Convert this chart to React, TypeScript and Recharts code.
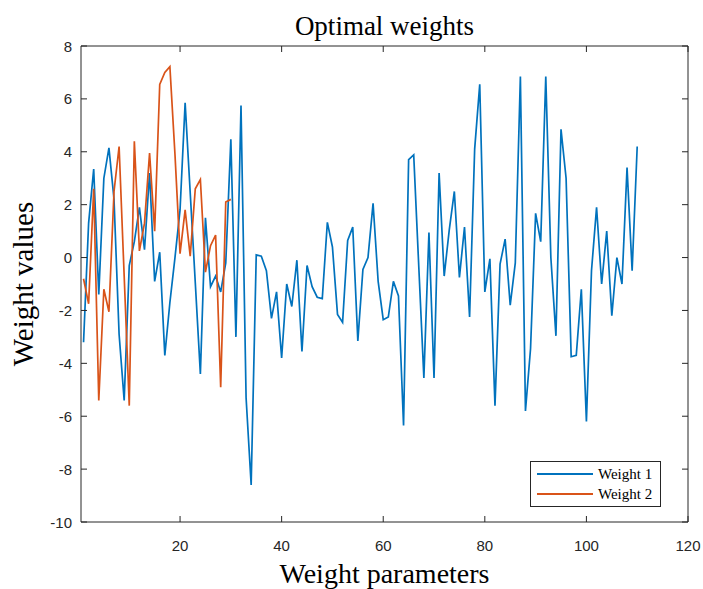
import React from 'react';
import { LineChart, Line, XAxis, YAxis, Legend } from 'recharts';

const weight1: number[] = [
  -3.2, 1.3, 3.35, -1.4, 3.0, 4.15, 2.2, -2.9, -5.4, -0.3,
  0.6, 1.9, 0.3, 3.2, -0.9, 0.2, -3.7, -1.7, 0.0, 1.8,
  5.85, 2.45, -0.95, -4.4, 1.5, -1.1, -0.7, -1.3, -0.2, 4.47,
  -3.0, 5.75, -5.3, -8.6, 0.1, 0.05, -0.5, -2.3, -1.3, -3.8,
  -1.0, -1.85, -0.1, -3.55, -0.3, -1.1, -1.5, -1.55, 1.33, 0.4,
  -2.15, -2.45, 0.65, 1.15, -3.15, -0.45, 0.0, 2.05, -0.9, -2.35,
  -2.25, -0.9, -1.45, -6.35, 3.7, 3.88, -0.35, -4.55, 0.95, -4.55,
  3.2, -0.7, 1.05, 2.5, -0.75, 1.15, -2.25, 4.1, 6.55, -1.3,
  -0.05, -5.6, -0.25, 0.7, -1.8, -0.2, 6.85, -5.8, -3.45, 1.67,
  0.6, 6.85, 0.0, -2.96, 4.85, 3.0, -3.75, -3.7, -1.2, -6.2,
  -0.5, 1.9, -1.0, 1.0, -2.2, 0.0, -1.0, 3.4, -0.5, 4.2,
];

const weight2: number[] = [
  -0.8, -1.75, 2.6, -5.4, -1.2, -2.05, 2.5, 4.2, -0.7, -5.6,
  4.4, 0.25, 1.3, 3.95, 1.0, 6.55, 7.0, 7.22, 3.9, 0.15,
  1.8, 0.05, 2.6, 2.95, -0.55, 0.45, 0.85, -4.9, 2.1, 2.2,
];

const xTicks = [20, 40, 60, 80, 100, 120];
const yTicks = [-10, -8, -6, -4, -2, 0, 2, 4, 6, 8];
const seriesNames = ['Weight 1', 'Weight 2'];
const seriesKeys = ['w1', 'w2'];
const seriesColors = ['#0072BD', '#D95319'];

const titleText = 'Optimal weights';
const xLabelText = 'Weight parameters';
const yLabelText = 'Weight values';

const data = weight1.map((v, i) => ({
  idx: i + 1,
  w1: v,
  w2: i < weight2.length ? weight2[i] : null,
}));

const AX = '#262626';
const TICK_FONT = '"Liberation Sans", Arial, sans-serif';
const SERIF = '"Liberation Serif", "Times New Roman", serif';
const TL = 6;

const BottomTick = (p: any) => (
  <g>
    <line x1={p.x} x2={p.x} y1={p.y} y2={p.y - TL} stroke={AX} strokeWidth={1} />
    <text x={p.x} y={p.y + 29} textAnchor="middle" fontFamily={TICK_FONT} fontSize={15} fill={AX}>
      {p.payload.value}
    </text>
  </g>
);
const TopTick = (p: any) => (
  <line x1={p.x} x2={p.x} y1={p.y} y2={p.y + TL} stroke={AX} strokeWidth={1} />
);
const LeftTick = (p: any) => (
  <g>
    <line x1={p.x} x2={p.x + TL} y1={p.y} y2={p.y} stroke={AX} strokeWidth={1} />
    <text x={p.x - 9} y={p.y + 5.5} textAnchor="end" fontFamily={TICK_FONT} fontSize={15} fill={AX}>
      {p.payload.value}
    </text>
  </g>
);
const RightTick = (p: any) => (
  <line x1={p.x} x2={p.x - TL} y1={p.y} y2={p.y} stroke={AX} strokeWidth={1} />
);

const renderLegend = () => (
  <div
    style={{
      border: `1px solid ${AX}`,
      background: '#fff',
      padding: '2px 8px 2px 6px',
      fontFamily: SERIF,
      fontSize: 15,
      color: '#000',
      lineHeight: '20px',
    }}
  >
    {seriesNames.map((n, i) => (
      <div key={n} style={{ display: 'flex', alignItems: 'center', height: 20 }}>
        <svg width={56} height={10} style={{ marginRight: 5 }}>
          <line x1={0} x2={56} y1={5} y2={5} stroke={seriesColors[i]} strokeWidth={2} />
        </svg>
        <span>{n}</span>
      </div>
    ))}
  </div>
);

export default function App() {
  return (
    <div style={{ position: 'absolute', left: 0, top: 0, width: 703, height: 589, background: '#fff' }}>
      <LineChart width={703} height={589} data={data} margin={{ top: 45, right: 14, bottom: 0, left: 0 }}>
        <XAxis
          dataKey="idx"
          type="number"
          domain={[0.5, 120]}
          allowDataOverflow
          ticks={xTicks}
          interval={0}
          height={67}
          tickSize={0}
          tickMargin={0}
          tickLine={false}
          axisLine={{ stroke: AX }}
          tick={BottomTick}
        />
        <XAxis
          xAxisId="top"
          dataKey="idx"
          orientation="top"
          type="number"
          domain={[0.5, 120]}
          allowDataOverflow
          ticks={xTicks}
          interval={0}
          height={1}
          tickSize={0}
          tickMargin={0}
          tickLine={false}
          axisLine={{ stroke: AX }}
          tick={TopTick}
        />
        <YAxis
          type="number"
          domain={[-10, 8]}
          allowDataOverflow
          ticks={yTicks}
          interval={0}
          width={81}
          tickSize={0}
          tickMargin={0}
          tickLine={false}
          axisLine={{ stroke: AX }}
          tick={LeftTick}
        />
        <YAxis
          yAxisId="right"
          orientation="right"
          type="number"
          domain={[-10, 8]}
          allowDataOverflow
          ticks={yTicks}
          interval={0}
          width={1}
          tickSize={0}
          tickMargin={0}
          tickLine={false}
          axisLine={{ stroke: AX }}
          tick={RightTick}
        />
        {/* invisible series bound to the box axes (top / right) so they are drawn */}
        <Line
          xAxisId="top"
          yAxisId="right"
          dataKey="w1"
          stroke="none"
          strokeWidth={0}
          dot={false}
          activeDot={false}
          legendType="none"
          isAnimationActive={false}
        />
        {seriesKeys.map((k, i) => (
          <Line
            key={k}
            dataKey={k}
            name={seriesNames[i]}
            stroke={seriesColors[i]}
            strokeWidth={1.7}
            dot={false}
            activeDot={false}
            isAnimationActive={false}
          />
        ))}
        <Legend
          layout="vertical"
          align="center"
          verticalAlign="middle"
          content={renderLegend}
          wrapperStyle={{ position: 'absolute', left: 530, top: 461, width: 'auto', height: 'auto' }}
        />
      </LineChart>
      <svg width={703} height={589} style={{ position: 'absolute', left: 0, top: 0, pointerEvents: 'none' }}>
        <text x={384.5} y={35} textAnchor="middle" fontFamily={SERIF} fontSize={27} fill="#000">
          {titleText}
        </text>
        <text x={384.5} y={583} textAnchor="middle" fontFamily={SERIF} fontSize={28} fill="#000">
          {xLabelText}
        </text>
        <text transform="translate(33,284) rotate(-90)" textAnchor="middle" fontFamily={SERIF} fontSize={29} fill="#000">
          {yLabelText}
        </text>
      </svg>
    </div>
  );
}
